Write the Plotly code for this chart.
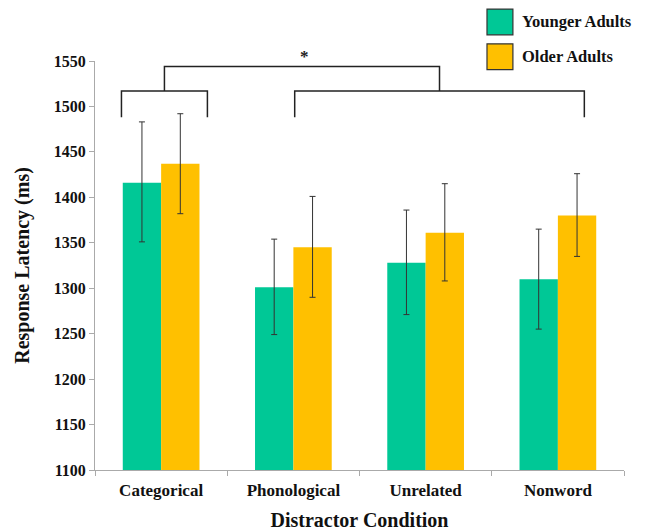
import plotly.graph_objects as go

categories = ["Categorical", "Phonological", "Unrelated", "Nonword"]
younger = [1416, 1301, 1328, 1310]
younger_hi = [1483, 1354, 1386, 1365]
younger_lo = [1351, 1249, 1271, 1255]
older = [1437, 1345, 1361, 1380]
older_hi = [1492, 1401, 1415, 1426]
older_lo = [1382, 1290, 1308, 1335]
series_names = ["Younger Adults", "Older Adults"]
colors = ["#00C896", "#FFC000"]

FONT = "Liberation Serif"

fig = go.Figure()
for name, vals, hi, lo, col in [
    (series_names[0], younger, younger_hi, younger_lo, colors[0]),
    (series_names[1], older, older_hi, older_lo, colors[1]),
]:
    fig.add_trace(go.Bar(
        x=categories, y=vals, name=name, marker=dict(color=col, line=dict(width=0)),
        error_y=dict(type="data", symmetric=False,
                     array=[h - v for h, v in zip(hi, vals)],
                     arrayminus=[v - l for v, l in zip(vals, lo)],
                     color="#333333", thickness=1, width=3),
        showlegend=False,
    ))

# significance brackets (data coords: category index)
line = dict(color="#222222", width=1.5)
yb_top, yb_low = 1517, 1488
for x0, x1 in [(-0.30, 0.35), (1.01, 3.20)]:
    fig.add_shape(type="path", xref="x", yref="y",
                  path=f"M {x0},{yb_low} L {x0},{yb_top} L {x1},{yb_top} L {x1},{yb_low}",
                  line=line)
fig.add_shape(type="path", xref="x", yref="y",
              path=f"M 0.025,{yb_top} L 0.025,1544 L 2.105,1544 L 2.105,{yb_top}",
              line=line)
fig.add_annotation(x=1.085, y=1544, xref="x", yref="y", text="<b>*</b>", showarrow=False,
                   yanchor="middle", yshift=10, font=dict(family=FONT, size=17, color="#222222"))

# legend drawn manually
for i, (name, col) in enumerate(zip(series_names, colors)):
    y1 = 1.127 - i * 0.085
    fig.add_shape(type="rect", xref="paper", yref="paper",
                  x0=0.741, x1=0.790, y0=y1 - 0.063, y1=y1,
                  fillcolor=col, line=dict(color="#333333", width=1.2))
    fig.add_annotation(xref="paper", yref="paper", x=0.804, y=y1 - 0.0315, text=f"<b>{name}</b>",
                       showarrow=False, xanchor="left", yanchor="middle",
                       font=dict(family=FONT, size=16.5, color="#111111"))

fig.update_layout(
    width=639, height=523,
    margin=dict(l=87, r=23, t=53, b=61),
    paper_bgcolor="white", plot_bgcolor="white",
    barmode="group", bargap=0.42, bargroupgap=0,
    font=dict(family=FONT, color="#111111"),
    xaxis=dict(
        automargin=False,
        tickvals=categories, ticktext=[f"<b>{c}</b>" for c in categories],
        tickfont=dict(family=FONT, size=17, color="#111111"),
        showline=True, linecolor="#aaaaaa", linewidth=1,
        ticks="outside", tickson="boundaries", ticklen=5, tickcolor="#aaaaaa",
        ticklabelstandoff=5,
        title=dict(text="<b>Distractor Condition</b>", font=dict(family=FONT, size=20), standoff=14),
    ),
    yaxis=dict(
        automargin=False,
        range=[1100, 1550], dtick=50,
        tickformat="d",
        tickfont=dict(family=FONT, size=16, color="#111111"),
        tickprefix="<b>", ticksuffix="</b>",
        showline=True, linecolor="#aaaaaa", linewidth=1,
        ticks="outside", ticklen=5, tickcolor="#aaaaaa",
        showgrid=False, zeroline=False,
        title=dict(text="<b>Response Latency (ms)</b>", font=dict(family=FONT, size=20), standoff=18),
    ),
)

fig.write_html("out.html")
